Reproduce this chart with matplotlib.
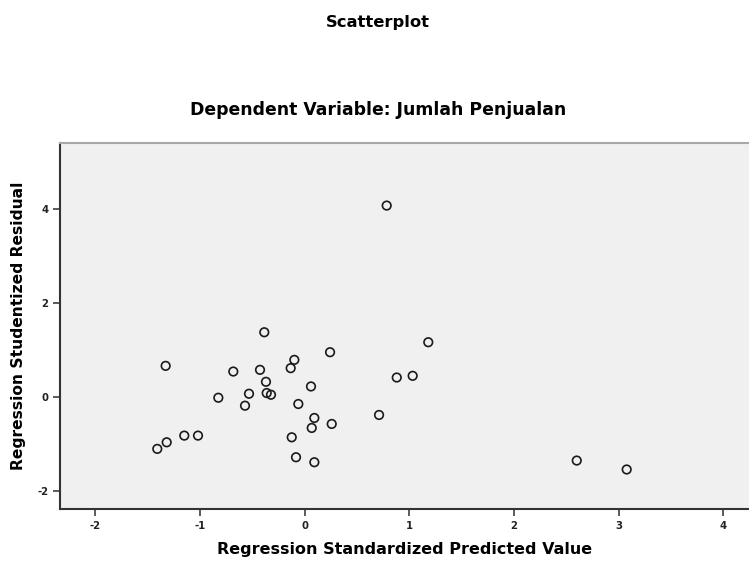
import matplotlib
matplotlib.use("Agg")
import matplotlib.pyplot as plt

# Data
predicted = [0.785, -0.384, 0.244, 1.182, -1.326, -0.680, -0.425, -0.097,
             -0.132, 0.881, 1.033, -0.368, 0.062, -0.823, -0.530, -0.568,
             -0.361, -0.320, -0.059, 0.712, 0.094, 0.069, 0.260, -0.122,
             -1.148, -1.017, -1.316, -1.406, -0.081, 0.094, 2.600, 3.077]
residual = [4.07, 1.377, 0.953, 1.165, 0.663, 0.542, 0.578, 0.790,
            0.614, 0.415, 0.451, 0.324, 0.225, -0.015, 0.070, -0.184,
            0.085, 0.049, -0.148, -0.381, -0.445, -0.657, -0.572, -0.856,
            -0.820, -0.820, -0.962, -1.102, -1.280, -1.386, -1.350, -1.540]
xticks = [-2, -1, 0, 1, 2, 3, 4]
yticks = [-2, 0, 2, 4]

plt.rcParams['font.family'] = ['DejaVu Sans']
plt.rcParams['axes.unicode_minus'] = False

fig = plt.figure(figsize=(7.49, 5.69), dpi=100)
ax = fig.add_axes([60/749, 1 - 509/569, 1 - 60/749, (509 - 143)/569])
ax.set_facecolor('#f0f0f0')

ax.scatter(predicted, residual, s=38, facecolors='none', edgecolors='#1a1a1a',
           linewidths=1.2, zorder=3)

ax.set_xlim(-2.335, 4.245)
ax.set_ylim(-2.38, 5.40)
ax.set_xticks(xticks)
ax.set_yticks(yticks)
ax.tick_params(axis='both', direction='out', length=5, width=1.2,
               color='#404040', labelsize=7.3, labelcolor='#222222')
for lbl in ax.get_xticklabels() + ax.get_yticklabels():
    lbl.set_fontweight('bold')

for side in ['left', 'bottom']:
    ax.spines[side].set_color('#333333')
    ax.spines[side].set_linewidth(1.5)
ax.spines['top'].set_color('#a8a8a8')
ax.spines['top'].set_linewidth(1.5)
ax.spines['right'].set_visible(False)

ax.set_xlabel('Regression Standardized Predicted Value', fontsize=11.5,
              fontweight='bold', labelpad=8)
ax.set_ylabel('Regression Studentized Residual', fontsize=11.2,
              fontweight='bold', labelpad=8)

fig.text(378/749, 1 - 22/569, 'Scatterplot', ha='center', va='center',
         fontsize=11.8, fontweight='bold')
fig.text(378/749, 1 - 110/569, 'Dependent Variable: Jumlah Penjualan',
         ha='center', va='center', fontsize=12.4, fontweight='bold')

fig.savefig('out.png', dpi=100)
